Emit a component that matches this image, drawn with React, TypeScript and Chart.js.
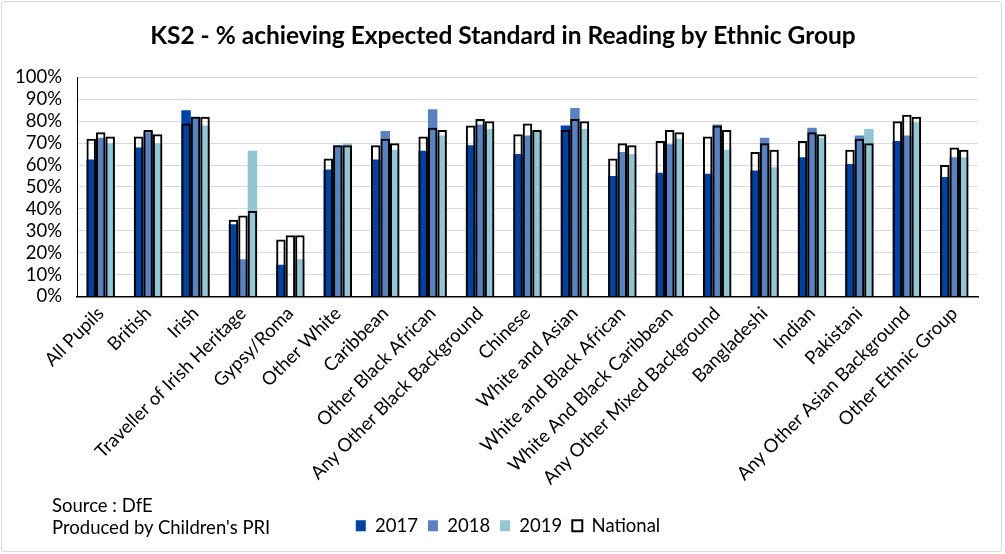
import React, { useEffect, useRef } from "react";
import { Chart, registerables } from "chart.js";

Chart.register(...registerables);

const categories = [
  "All Pupils",
  "British",
  "Irish",
  "Traveller of Irish Heritage",
  "Gypsy/Roma",
  "Other White",
  "Caribbean",
  "Other Black African",
  "Any Other Black Background",
  "Chinese",
  "White and Asian",
  "White and Black African",
  "White And Black Caribbean",
  "Any Other Mixed Background",
  "Bangladeshi",
  "Indian",
  "Pakistani",
  "Any Other Asian Background",
  "Other Ethnic Group",
];

const values2017 = [62.5, 68, 85, 33, 14.5, 58, 62.5, 66.5, 69, 65, 78, 55, 56.5, 56, 57.5, 63.5, 60.5, 71, 54.5];
const values2018 = [72.5, 75, 82, 17, null, 69, 75.5, 85.5, 78.5, 73.5, 86, 66, 69.5, 78.5, 72.5, 77, 73.5, 73.5, 63.5];
const values2019 = [70, 70, 78, 66.5, 17, 70, 67, 73.5, 76.5, 76, 76.5, 65, 72, 67, 59, 72.5, 76.5, 79.5, 63.5];

const national2017 = [72, 73, 79, 35, 26, 63, 69, 73, 78, 74, 76, 63, 71, 73, 66, 71, 67, 80, 60];
const national2018 = [75, 76, 82, 37, 28, 69, 72, 77, 81, 79, 81, 70, 76, 78, 70, 75, 72, 83, 68];
const national2019 = [73, 74, 82, 39, 28, 69, 70, 76, 80, 76, 80, 69, 75, 76, 67, 74, 70, 82, 67];

const yTicks = [0, 10, 20, 30, 40, 50, 60, 70, 80, 90, 100];

const FONT = "Lato, 'Open Sans', sans-serif";

const recenter = {
  id: "recenter",
  afterLayout(chart: any) {
    const shift = (box: any, target: number) => {
      if (!box) return;
      const d = target - (box.left + box.right) / 2;
      box.left += d;
      box.right += d;
    };
    shift(chart.legend, 508);
    shift(chart.titleBlock, 503);
  },
};

export default function App() {
  const canvasRef = useRef<HTMLCanvasElement | null>(null);

  useEffect(() => {
    if (!canvasRef.current) return;
    const yearSeries = [
      { label: "2017", data: values2017, color: "#0042A0", stack: "s1" },
      { label: "2018", data: values2018, color: "#5982BE", stack: "s2" },
      { label: "2019", data: values2019, color: "#93C5D2", stack: "s3" },
    ];
    const nationalSeries = [
      { data: national2017, stack: "s1" },
      { data: national2018, stack: "s2" },
      { data: national2019, stack: "s3" },
    ];

    const datasets: any[] = [];
    yearSeries.forEach((s) => {
      datasets.push({
        label: s.label,
        data: s.data,
        backgroundColor: s.color,
        borderWidth: 0,
        stack: s.stack,
        order: 1,
        categoryPercentage: 0.6,
        barPercentage: 1.0,
      });
    });
    nationalSeries.forEach((s) => {
      datasets.push({
        label: "National",
        data: s.data,
        backgroundColor: "rgba(255,255,255,0)",
        borderColor: "#000000",
        borderWidth: 2,
        borderSkipped: "bottom",
        stack: s.stack,
        order: 0,
        categoryPercentage: 0.6,
        barPercentage: 1.0,
      });
    });

    const chart = new Chart(canvasRef.current, {
      type: "bar",
      data: { labels: categories, datasets },
      plugins: [recenter],
      options: {
        animation: false,
        responsive: false,
        maintainAspectRatio: false,
        layout: { padding: { left: 0, right: 27, top: 0, bottom: 9 } },
        plugins: {
          title: {
            display: true,
            text: "KS2 - % achieving Expected Standard in Reading by Ethnic Group",
            color: "#000",
            font: { family: FONT, size: 24.5, weight: "bold", lineHeight: 1.2 },
            padding: { top: 21, bottom: 27 },
          },
          legend: {
            display: true,
            position: "bottom",
            labels: {
              color: "#000",
              font: { family: FONT, size: 18.5 },
              boxWidth: 10,
              boxHeight: 11,
              padding: 10,
              filter: (item: any) => item.datasetIndex <= 3,
              sort: (a: any, b: any) => a.datasetIndex - b.datasetIndex,
            },
          },
          tooltip: { enabled: false },
        },
        scales: {
          x: {
            type: "category",
            offset: true,
            grid: { display: false, drawTicks: false },
            border: { display: true, color: "#000", width: 1.5 },
            ticks: {
              color: "#000",
              font: { family: FONT, size: 18.5 },
              maxRotation: 45,
              minRotation: 45,
              autoSkip: false,
              padding: 6,
            },
            afterFit: (s: any) => {
              s.height = 210;
              s.paddingLeft = 0;
              s.paddingRight = 0;
            },
          },
          y: {
            min: 0,
            max: 100,
            stacked: false,
            afterBuildTicks: (axis: any) => {
              axis.ticks = yTicks.map((v) => ({ value: v }));
            },
            afterFit: (s: any) => {
              s.width = 77;
            },
            grid: { color: "#d9d9d9", lineWidth: 1, drawTicks: false },
            border: { display: true, color: "#000", width: 1 },
            ticks: {
              color: "#000",
              font: { family: FONT, size: 18.5 },
              padding: 15,
              autoSkip: false,
              callback: (v: any) => v + "%",
            },
          },
        },
      } as any,
    });
    return () => chart.destroy();
  }, []);

  return (
    <div
      style={{
        position: "absolute",
        left: 0,
        top: 0,
        width: 1005,
        height: 554,
        background: "#fff",
      }}
    >
      <div
        style={{
          position: "absolute",
          left: 1,
          top: 1,
          width: 1001,
          height: 551,
          border: "1px solid #d9d9d9",
          borderRadius: 3,
          boxSizing: "border-box",
        }}
      />
      <canvas ref={canvasRef} width={1005} height={554} style={{ position: "absolute", left: 0, top: 0 }} />
      <div
        style={{
          position: "absolute",
          left: 52,
          top: 494,
          fontFamily: FONT,
          fontSize: 18.5,
          color: "#000",
          lineHeight: "22px",
          whiteSpace: "nowrap",
        }}
      >
        <div>Source : DfE</div>
        <div>Produced by Children's PRI</div>
      </div>
    </div>
  );
}
